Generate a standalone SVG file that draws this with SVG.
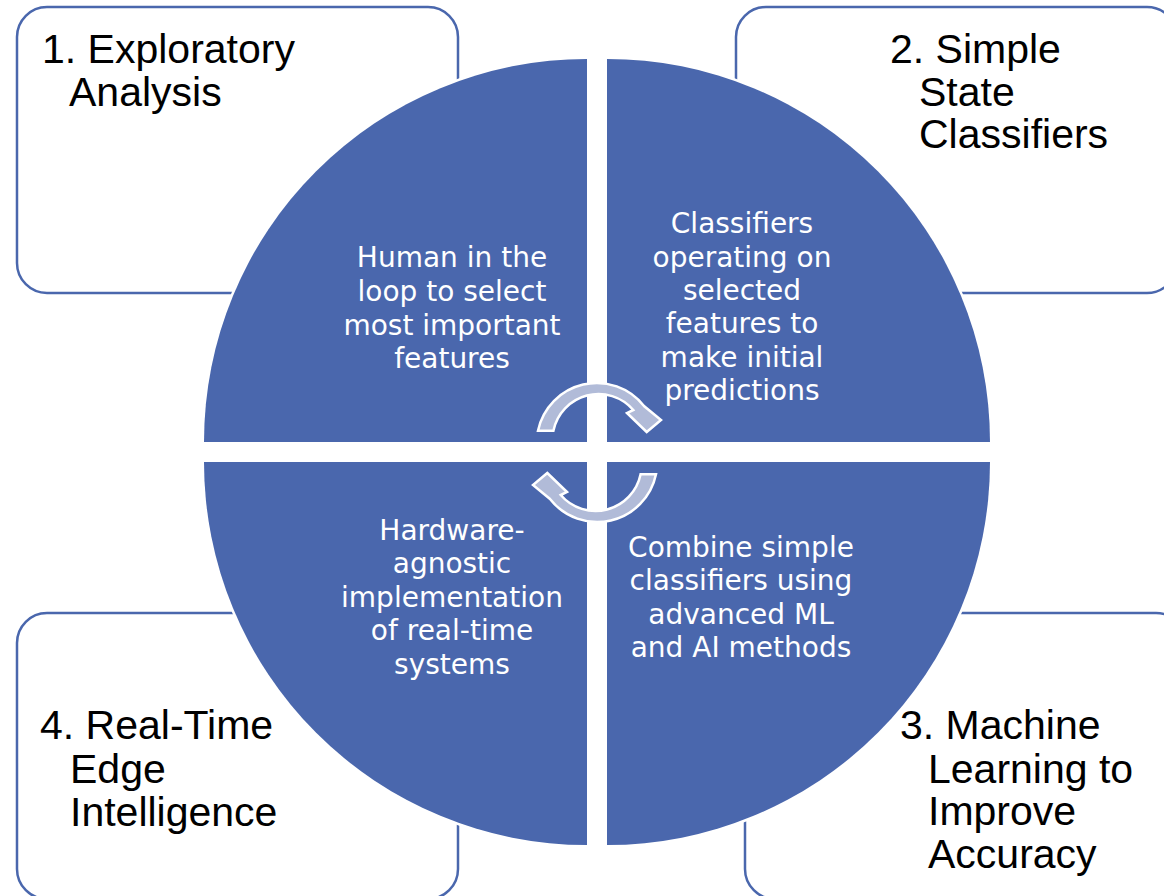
<svg xmlns="http://www.w3.org/2000/svg" width="1164" height="896" viewBox="0 0 1164 896">
  <style>
    .box { fill: #ffffff; stroke: #4A67AD; stroke-width: 2.5; }
    .quad { fill: #4A67AD; stroke: #ffffff; stroke-width: 5; paint-order: stroke; }
    .stage { font-family: "Liberation Sans", Arial, sans-serif; font-size: 41px; fill: #000000; }
    .desc { font-family: "DejaVu Sans", Verdana, sans-serif; font-size: 28px; fill: #ffffff; text-anchor: middle; }
    .cyc { fill: #B1BBD8; stroke: #ffffff; stroke-width: 2.5; stroke-linejoin: miter; }
  </style>
  <rect width="1164" height="896" fill="#ffffff"/>

  <g id="stage-1">
    <rect class="box" x="17" y="7" width="441" height="286" rx="30" ry="30"/>
    <text class="stage"><tspan x="42" y="63">1. Exploratory</tspan><tspan x="69" y="106">Analysis</tspan></text>
  </g>
  <g id="stage-2">
    <rect class="box" x="736" y="7" width="441" height="286" rx="30" ry="30"/>
    <text class="stage"><tspan x="890" y="63">2. Simple</tspan><tspan x="919" y="106">State</tspan><tspan x="919" y="148">Classifiers</tspan></text>
  </g>
  <g id="stage-3">
    <rect class="box" x="745" y="613" width="441" height="286" rx="30" ry="30"/>
    <text class="stage"><tspan x="900" y="739">3. Machine</tspan><tspan x="928" y="783">Learning to</tspan><tspan x="928" y="825">Improve</tspan><tspan x="928" y="868">Accuracy</tspan></text>
  </g>
  <g id="stage-4">
    <rect class="box" x="17" y="613" width="441" height="286" rx="30" ry="30"/>
    <text class="stage"><tspan x="40" y="739">4. Real-Time</tspan><tspan x="70" y="783">Edge</tspan><tspan x="70" y="826">Intelligence</tspan></text>
  </g>

  <g id="desc-1">
    <path class="quad" d="M587,442 L204,442 A383,383 0 0 1 587,59 Z"/>
    <text class="desc"><tspan x="452" y="267">Human in the</tspan><tspan x="452" y="301">loop to select</tspan><tspan x="452" y="335">most important</tspan><tspan x="452" y="368">features</tspan></text>
  </g>
  <g id="desc-2">
    <path class="quad" d="M607,442 L607,59 A383,383 0 0 1 990,442 Z"/>
    <text class="desc"><tspan x="742" y="233">Classifiers</tspan><tspan x="742" y="267">operating on</tspan><tspan x="742" y="300">selected</tspan><tspan x="742" y="333">features to</tspan><tspan x="742" y="367">make initial</tspan><tspan x="742" y="400">predictions</tspan></text>
  </g>
  <g id="desc-3">
    <path class="quad" d="M607,462 L990,462 A383,383 0 0 1 607,845 Z"/>
    <text class="desc"><tspan x="741" y="557">Combine simple</tspan><tspan x="741" y="590">classifiers using</tspan><tspan x="741" y="624">advanced ML</tspan><tspan x="741" y="657">and AI methods</tspan></text>
  </g>
  <g id="desc-4">
    <path class="quad" d="M587,462 L587,845 A383,383 0 0 1 204,462 Z"/>
    <text class="desc"><tspan x="452" y="540">Hardware-</tspan><tspan x="452" y="573">agnostic</tspan><tspan x="452" y="607">implementation</tspan><tspan x="452" y="640">of real-time</tspan><tspan x="452" y="674">systems</tspan></text>
  </g>

  <g id="connectors">
    <path class="cyc" d="M538,430.7 A60,60 0 0 1 644,406 L661,420 L646.7,432 L627,413 L633.3,410 A46,46 0 0 0 553.4,430.7 Z"/>
    <path class="cyc" d="M656,474.3 A60,60 0 0 1 550,499 L533,485 L547.3,473 L567,492 L560.7,495 A46,46 0 0 0 640.6,474.3 Z"/>
  </g>
</svg>
